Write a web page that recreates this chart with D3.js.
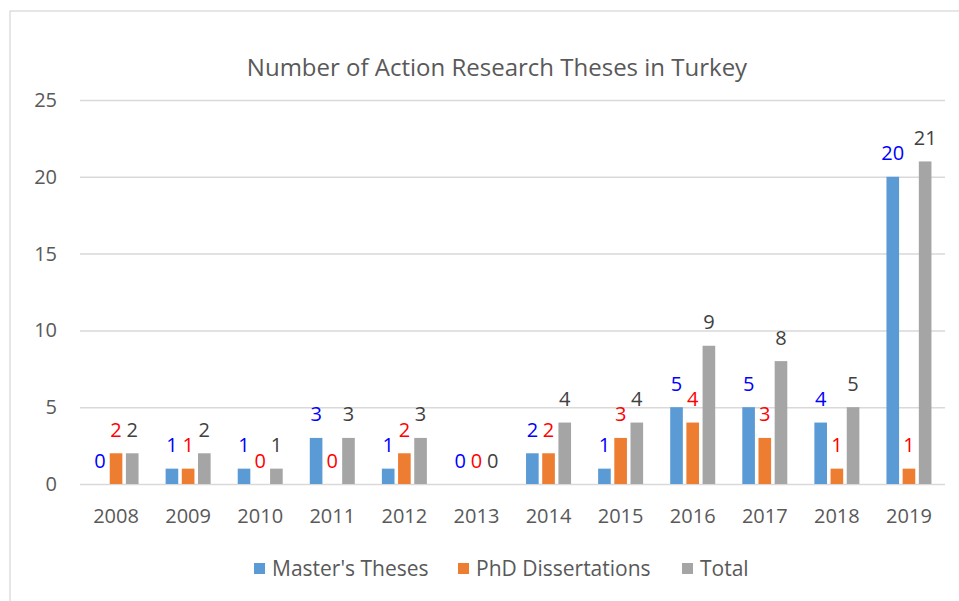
<!DOCTYPE html>
<meta charset="utf-8">
<script src="https://d3js.org/d3.v7.min.js"></script>
<style>
  body { margin: 0; background: #fff; }
  text { font-family: "Open Sans", sans-serif; }
</style>
<div id="my_dataviz"></div>
<script>

// data
var years = ["2008", "2009", "2010", "2011", "2012", "2013", "2014", "2015", "2016", "2017", "2018", "2019"];
var masters = [0, 1, 1, 3, 1, 0, 2, 1, 5, 5, 4, 20];
var phd = [2, 1, 0, 0, 2, 0, 2, 3, 4, 3, 1, 1];
var total = [2, 2, 1, 3, 3, 0, 4, 4, 9, 8, 5, 21];
var seriesNames = ["Master's Theses", "PhD Dissertations", "Total"];
var yTicks = [0, 5, 10, 15, 20, 25];

var W = 959, H = 601;
var plot = {left: 80, right: 945, top: 100, bottom: 484};

var svg = d3.select("#my_dataviz")
  .append("svg")
  .attr("width", W)
  .attr("height", H);

// chart frame
svg.append("rect")
  .attr("x", 10).attr("y", 11)
  .attr("width", 960).attr("height", 600)
  .attr("fill", "none")
  .attr("stroke", "#d9d9d9")
  .attr("stroke-width", 1.3);

// title
svg.append("text")
  .attr("x", 497).attr("y", 76)
  .attr("text-anchor", "middle")
  .style("font-size", "24px")
  .attr("fill", "#595959")
  .text("Number of Action Research Theses in Turkey");

var x0 = d3.scaleBand().domain(years).range([plot.left, plot.right]);
var x1 = d3.scaleBand().domain(seriesNames).range([-22.5, 22.5]).paddingInner(0.22);
var y = d3.scaleLinear().domain([0, 25]).range([plot.bottom, plot.top]);

var color = d3.scaleOrdinal().domain(seriesNames).range(["#5B9BD5", "#ED7D31", "#A5A5A5"]);
var labelColor = d3.scaleOrdinal().domain(seriesNames).range(["#0000FF", "#FF0000", "#404040"]);

// gridlines + y labels
var yAxis = svg.append("g")
  .attr("transform", "translate(" + plot.left + ",0)")
  .call(d3.axisLeft(y).tickValues(yTicks).tickSize(-(plot.right - plot.left)).tickPadding(23));
yAxis.select(".domain").remove();
yAxis.selectAll(".tick line").attr("stroke", "#d9d9d9").attr("stroke-width", 1.5);
yAxis.selectAll(".tick text")
  .attr("fill", "#595959")
  .style("font-size", "20px")
  .style("font-family", "'Open Sans', sans-serif");

// x labels
var xAxis = svg.append("g")
  .attr("transform", "translate(0," + plot.bottom + ")")
  .call(d3.axisBottom(x0).tickSize(0).tickPadding(25));
xAxis.select(".domain").remove();
xAxis.selectAll(".tick text")
  .attr("fill", "#595959")
  .style("font-size", "20px")
  .style("font-family", "'Open Sans', sans-serif");

// rows of data
var rows = years.map(function(yr, i) {
  return { year: yr, values: [masters[i], phd[i], total[i]] };
});

var groups = svg.append("g")
  .selectAll("g")
  .data(rows)
  .enter().append("g")
  .attr("transform", function(d) { return "translate(" + (x0(d.year) + x0.bandwidth() / 2) + ",0)"; });

groups.selectAll("rect")
  .data(function(d) { return d.values.map(function(v, j) { return { key: seriesNames[j], value: v }; }); })
  .enter().append("rect")
  .attr("x", function(d) { return x1(d.key); })
  .attr("y", function(d) { return y(d.value); })
  .attr("width", x1.bandwidth())
  .attr("height", function(d) { return y(0) - y(d.value); })
  .attr("fill", function(d) { return color(d.key); });

// value labels above each bar
groups.selectAll("text")
  .data(function(d) { return d.values.map(function(v, j) { return { key: seriesNames[j], value: v }; }); })
  .enter().append("text")
  .attr("x", function(d) { return x1(d.key) + x1.bandwidth() / 2; })
  .attr("y", function(d) { return y(d.value) - 16.5; })
  .attr("text-anchor", "middle")
  .style("font-size", "20px")
  .attr("fill", function(d) { return labelColor(d.key); })
  .text(function(d) { return d.value; });

// legend
var legendX = [254, 458, 682];
var legend = svg.append("g")
  .selectAll("g")
  .data(seriesNames)
  .enter().append("g")
  .attr("transform", function(d, i) { return "translate(" + legendX[i] + ",563)"; });

legend.append("rect")
  .attr("width", 11).attr("height", 11)
  .attr("fill", function(d) { return color(d); });

legend.append("text")
  .attr("x", 18).attr("y", 13)
  .style("font-size", "21px")
  .attr("fill", "#595959")
  .text(function(d) { return d; });

</script>
